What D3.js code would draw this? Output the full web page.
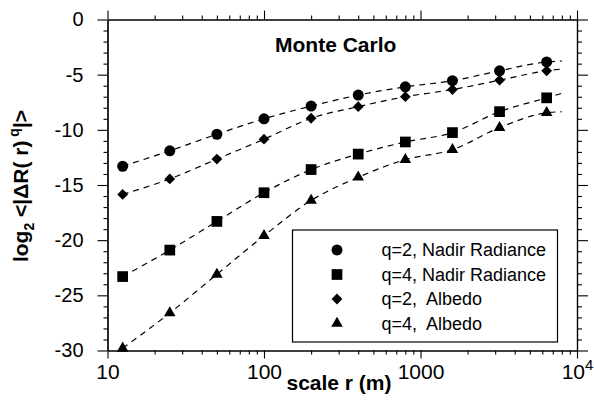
<!DOCTYPE html>
<html>
<head>
<meta charset="utf-8">
<script src="https://cdn.jsdelivr.net/npm/d3@7"></script>
<style>
  body { margin: 0; background: #fff; }
  svg { font-family: "Liberation Sans", Arial, Helvetica, sans-serif; }
  .tick text { fill: #000; }
</style>
</head>
<body>
<svg id="chart" width="594" height="408"></svg>
<script>
// scales r (m) at which the structure functions were computed
const scales = [12.5, 25, 50, 100, 200, 400, 800, 1600, 3200, 6400];
const q2Radiance = [-13.3, -11.9, -10.4, -9.0, -7.85, -6.85, -6.1, -5.55, -4.65, -3.85];
const q4Radiance = [-23.3, -20.9, -18.3, -15.7, -13.6, -12.2, -11.1, -10.25, -8.35, -7.1];
const q2Albedo = [-15.85, -14.45, -12.65, -10.85, -8.95, -7.9, -7.0, -6.35, -5.5, -4.65];
const q4Albedo = [-29.8, -26.6, -23.1, -19.6, -16.4, -14.3, -12.7, -11.8, -9.8, -8.45];
// dashed fit curves run a little past the last point
const fitEndScale = 8000;
const fitEnds = [-3.76, -6.69, -4.49, -8.36];
const seriesNames = ["q=2, Nadir Radiance", "q=4, Nadir Radiance", "q=2,  Albedo", "q=4,  Albedo"];
const xMajor = [10, 100, 1000, 10000];
const xMinor = [20, 30, 40, 50, 60, 70, 80, 90, 200, 300, 400, 500, 600, 700, 800, 900,
                2000, 3000, 4000, 5000, 6000, 7000, 8000, 9000];
const yMajor = [0, -5, -10, -15, -20, -25, -30];

const margin = {top: 19.5, right: 17, bottom: 57.5, left: 107.5};
const W = 594, H = 408;
const svg = d3.select("#chart");

const x = d3.scaleLog().domain([10, 10000]).range([margin.left, W - margin.right]);
const y = d3.scaleLinear().domain([-30, 0]).range([H - margin.bottom, margin.top]);
const yMinor = d3.range(-29, 0).filter(v => v % 5 !== 0);

const series = [q2Radiance, q4Radiance, q2Albedo, q4Albedo].map((vals, i) => ({
  name: seriesNames[i],
  points: scales.map((s, j) => ({r: s, v: vals[j]})),
  fit: scales.map((s, j) => ({r: s, v: vals[j]})).concat([{r: fitEndScale, v: fitEnds[i]}])
}));

const symbols = [
  d3.symbol().type(d3.symbolCircle).size(95),
  d3.symbol().type(d3.symbolSquare).size(115),
  d3.symbol().type(d3.symbolSquare).size(58),
  d3.symbol().type(d3.symbolTriangle).size(58)
];
const rotations = [0, 0, 45, 0];

// axes: major ticks longer, minor ticks short, all pointing out
function axisGroup(axis, transform) {
  const g = svg.append("g").attr("transform", transform).call(axis);
  g.select(".domain").attr("stroke", "#000").attr("stroke-width", 1.2);
  g.selectAll(".tick line").attr("stroke", "#000").attr("stroke-width", 1.1);
  return g;
}

const bottomY = H - margin.bottom, rightX = W - margin.right;

axisGroup(d3.axisBottom(x).tickValues(xMinor).tickSize(4).tickSizeOuter(0).tickFormat(""), `translate(0,${bottomY})`);
const xb = axisGroup(d3.axisBottom(x).tickValues(xMajor).tickSize(8).tickSizeOuter(0).tickPadding(6)
  .tickFormat(d => d === 10000 ? "" : d3.format("d")(d)), `translate(0,${bottomY})`);
xb.selectAll(".tick text").attr("font-size", 21);
const last = xb.selectAll(".tick").filter(d => d === 10000).select("text");
last.append("tspan").text("10");
last.append("tspan").attr("dy", -9).attr("font-size", 15).text("4");

axisGroup(d3.axisTop(x).tickValues(xMinor).tickSize(4).tickSizeOuter(0).tickFormat(""), `translate(0,${margin.top})`);
axisGroup(d3.axisTop(x).tickValues(xMajor).tickSize(9).tickSizeOuter(0).tickFormat(""), `translate(0,${margin.top})`);

axisGroup(d3.axisLeft(y).tickValues(yMinor).tickSize(4).tickSizeOuter(0).tickFormat(""), `translate(${margin.left},0)`);
const yl = axisGroup(d3.axisLeft(y).tickValues(yMajor).tickSize(10).tickSizeOuter(0).tickPadding(14), `translate(${margin.left},0)`);
yl.selectAll(".tick text").attr("font-size", 20).text(d => d === 0 ? "0" : String(d));

axisGroup(d3.axisRight(y).tickValues(yMinor).tickSize(5).tickSizeOuter(0).tickFormat(""), `translate(${rightX},0)`);
axisGroup(d3.axisRight(y).tickValues(yMajor).tickSize(11).tickSizeOuter(0).tickFormat(""), `translate(${rightX},0)`);

// dashed fit lines
const line = d3.line().x(d => x(d.r)).y(d => y(d.v)).curve(d3.curveMonotoneX);
svg.append("g").selectAll("path.fit")
  .data(series)
  .join("path")
  .attr("class", "fit")
  .attr("d", d => line(d.fit))
  .attr("fill", "none")
  .attr("stroke", "#000")
  .attr("stroke-width", 1.2)
  .attr("stroke-dasharray", "6,5");

// markers
series.forEach((s, i) => {
  svg.append("g").selectAll("path.mark")
    .data(s.points)
    .join("path")
    .attr("class", "mark")
    .attr("d", symbols[i])
    .attr("transform", d => `translate(${x(d.r)},${y(d.v)}) rotate(${rotations[i]})`)
    .attr("fill", "#000");
});

// title
svg.append("text")
  .attr("x", 275).attr("y", 52)
  .attr("font-size", 21).attr("font-weight", "bold")
  .text("Monte Carlo");

// axis titles
svg.append("text")
  .attr("x", 339).attr("y", 390)
  .attr("text-anchor", "middle")
  .attr("font-size", 21).attr("font-weight", "bold")
  .text("scale r (m)");

const ylab = svg.append("text")
  .attr("transform", "translate(28,186) rotate(-90)")
  .attr("text-anchor", "middle")
  .attr("font-size", 21).attr("font-weight", "bold");
ylab.append("tspan").text("log");
ylab.append("tspan").attr("dy", 6).attr("font-size", 14).text("2");
ylab.append("tspan").attr("dy", -6).text(" <|\u0394R( r)");
ylab.append("tspan").attr("dy", -9).attr("font-size", 14).text(" q");
ylab.append("tspan").attr("dy", 9).text("|>");

// legend
const legend = svg.append("g");
legend.append("rect")
  .attr("x", 292.5).attr("y", 230).attr("width", 265).attr("height", 112)
  .attr("fill", "#fff").attr("stroke", "#000").attr("stroke-width", 1.2);
const rowY = d3.scalePoint().domain(seriesNames).range([250, 323.5]);
series.forEach((s, i) => {
  legend.append("path")
    .attr("d", symbols[i])
    .attr("transform", `translate(337,${rowY(s.name)}) rotate(${rotations[i]})`)
    .attr("fill", "#000");
  legend.append("text")
    .attr("x", 381.5).attr("y", rowY(s.name)).attr("dy", "0.35em")
    .attr("font-size", 18)
    .attr("xml:space", "preserve")
    .style("white-space", "pre")
    .text(s.name);
});
</script>
</body>
</html>
